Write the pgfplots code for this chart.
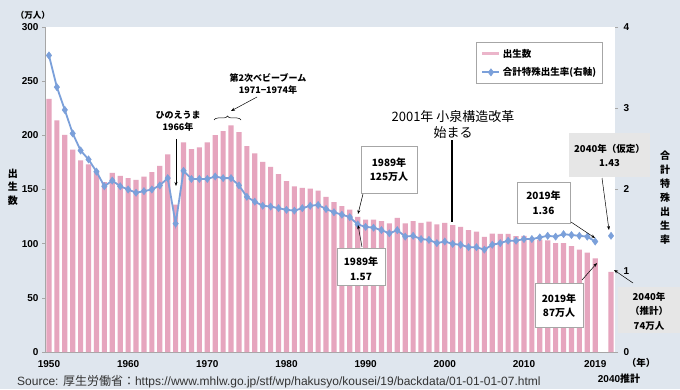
\documentclass[border=0pt]{standalone}
\usepackage{pgfplots}
\pgfplotsset{compat=1.18}
\usepackage{pgfplotstable}
\usepackage{fontspec}
\setmainfont{Liberation Sans}
\newfontfamily\jp{Noto Sans CJK JP}
\usetikzlibrary{decorations.pathreplacing,arrows.meta}
\definecolor{bg}{HTML}{DFE6EE}
\definecolor{barpink}{HTML}{E6A5BE}
\definecolor{legpink}{HTML}{EBB5CA}
\definecolor{lineblue}{HTML}{7BA0DA}
\definecolor{axgray}{HTML}{A6A6A6}
\definecolor{boxgray}{HTML}{E6E6E6}
\definecolor{srcgray}{HTML}{333333}

\pgfplotstableread{
year births
1950 233.7
1951 213.8
1952 200.5
1953 186.8
1954 177.0
1955 173.1
1956 166.5
1957 156.7
1958 165.3
1959 162.6
1960 160.6
1961 158.9
1962 161.9
1963 166.0
1964 171.7
1965 182.4
1966 136.1
1967 193.6
1968 187.2
1969 188.9
1970 193.4
1971 200.1
1972 203.9
1973 209.2
1974 203.0
1975 190.1
1976 183.3
1977 175.5
1978 170.9
1979 164.3
1980 157.7
1981 152.9
1982 151.5
1983 150.9
1984 149.0
1985 143.2
1986 138.3
1987 134.7
1988 131.4
1989 124.7
1990 122.2
1991 122.3
1992 120.9
1993 118.8
1994 123.8
1995 118.7
1996 120.7
1997 119.2
1998 120.3
1999 117.8
2000 119.1
2001 117.1
2002 115.4
2003 112.4
2004 111.1
2005 106.3
2006 109.3
2007 109.0
2008 109.1
2009 107.0
2010 107.1
2011 105.1
2012 103.7
2013 103.0
2014 100.4
2015 100.6
2016 97.7
2017 94.6
2018 91.8
2019 86.5
2021 74.0
}\births

\pgfplotstableread{
year tfr
1950 3.65
1951 3.26
1952 2.98
1953 2.69
1954 2.48
1955 2.37
1956 2.22
1957 2.04
1958 2.11
1959 2.04
1960 2.00
1961 1.96
1962 1.98
1963 2.00
1964 2.05
1965 2.14
1966 1.58
1967 2.23
1968 2.13
1969 2.13
1970 2.13
1971 2.16
1972 2.14
1973 2.14
1974 2.05
1975 1.91
1976 1.85
1977 1.80
1978 1.79
1979 1.77
1980 1.75
1981 1.74
1982 1.77
1983 1.80
1984 1.81
1985 1.76
1986 1.72
1987 1.69
1988 1.66
1989 1.57
1990 1.54
1991 1.53
1992 1.50
1993 1.46
1994 1.50
1995 1.42
1996 1.43
1997 1.39
1998 1.38
1999 1.34
2000 1.36
2001 1.33
2002 1.32
2003 1.29
2004 1.29
2005 1.26
2006 1.32
2007 1.34
2008 1.37
2009 1.37
2010 1.39
2011 1.39
2012 1.41
2013 1.43
2014 1.42
2015 1.45
2016 1.44
2017 1.43
2018 1.42
2019 1.36
}\tfr

\begin{document}
\begin{tikzpicture}
\useasboundingbox (0pt,0pt) rectangle (680pt,389pt);
\fill[bg] (0pt,0pt) rectangle (680pt,389pt);
\begin{axis}[
  at={(45pt,37pt)}, anchor=south west,
  width=570pt, height=325pt, scale only axis,
  xmin=1949.5, xmax=2021.5, ymin=0, ymax=300,
  axis background/.style={fill=white},
  axis x line*=bottom, axis y line*=left,
  axis line style={axgray, line width=0.8pt},
  xtick={1950,1960,1970,1980,1990,2000,2010,2019},
  xticklabels={1950,1960,1970,1980,1990,2000,2010,2019},
  x tick style={draw=none},
  ytick={0,50,...,300},
  y tick style={axgray, line width=0.6pt},
  tick align=outside, major tick length=3pt,
  /pgf/number format/assume math mode=true,
  ticklabel style={font=\bfseries\fontsize{10}{12}\selectfont, text=black},
  xticklabel style={yshift=-1.5pt},
  clip=false,
]
\addplot[ybar, bar width=0.66, fill=barpink, draw=none] table[x=year,y=births] {\births};
\end{axis}
\begin{axis}[
  at={(45pt,37pt)}, anchor=south west,
  width=570pt, height=325pt, scale only axis,
  xmin=1949.5, xmax=2021.5, ymin=0, ymax=4,
  axis x line=none, axis y line*=right,
  y axis line style={draw=none},
  ytick={0,1,2,3,4},
  y tick style={axgray, line width=0.6pt},
  tick align=outside, major tick length=3pt,
  /pgf/number format/assume math mode=true,
  ticklabel style={font=\bfseries\fontsize{10}{12}\selectfont, text=black},
  yticklabel style={xshift=2pt},
  clip=false,
  legend style={at={(0.979,0.954)}, anchor=north east, draw=axgray, line width=0.9pt,
    font=\jp\bfseries\fontsize{9.5}{11}\selectfont, row sep=5pt, inner sep=4.5pt,
    /tikz/every even column/.append style={column sep=2pt}},
  legend cell align=left,
]
\addlegendimage{legpink, line width=3pt}
\addlegendentry{出生数}
\addplot[lineblue, line width=1.8pt, mark=diamond*, mark size=3.6pt, mark options={fill=lineblue, draw=lineblue, line width=0.5pt}] table[x=year,y=tfr] {\tfr};
\addlegendentry{合計特殊出生率(右軸)}
\addplot[only marks, mark=diamond*, mark size=3.6pt, lineblue, forget plot] coordinates {(2021,1.43)};
\end{axis}

\begin{scope}[x=1pt,y=1pt]
% axis titles
\node[font=\jp\bfseries\fontsize{8.5}{10}\selectfont] at (33,374) {（万人）};
\node[font=\jp\bfseries\fontsize{10}{13.5}\selectfont, align=center] at (13,202) {出\\生\\数};
\node[font=\jp\bfseries\fontsize{10}{14}\selectfont, align=center] at (665,191.5) {合\\計\\特\\殊\\出\\生\\率};
\node[font=\jp\bfseries\fontsize{9.5}{11}\selectfont] at (641,26) {（年）};
\node[font=\bfseries\fontsize{10}{12}\selectfont] at (619,10) {2040{\jp 推計}};
% source
\node[font=\fontsize{12}{14}\selectfont, text=srcgray, anchor=west, inner sep=0pt] at (17,7) {Source: {\jp 厚生労働省：}https://www.mhlw.go.jp/stf/wp/hakusyo/kousei/19/backdata/01-01-01-07.html};

% hinoeuma
\node[font=\jp\bfseries\fontsize{9}{12}\selectfont, align=center] at (178,268) {ひのえうま\\1966年};
\draw[-{Stealth[length=4pt,width=3pt]}, line width=0.5pt] (176,250) -- (176,203);
% second baby boom
\node[font=\jp\bfseries\fontsize{9}{12.5}\selectfont, align=center] at (268,305) {第2次ベビーブーム\\1971−1974年};
\draw[-{Stealth[length=4pt,width=3pt]}, line width=0.5pt] (257,292) -- (231,278);
\draw[decorate, decoration={brace, amplitude=4pt}, line width=0.5pt] (214,269) -- (241,269);
% koizumi
\node[font=\jp\fontsize{13}{16}\selectfont, align=center] at (453,264) {2001年 小泉構造改革\\始まる};
\draw[line width=2.5pt] (452,249) -- (452,167);

% box A
\draw[axgray, fill=white, line width=0.6pt] (361,243) rectangle (417,196);
\node[font=\jp\bfseries\fontsize{10}{14}\selectfont, align=center] at (389,219.5) {1989年\\125万人};
\draw[-{Stealth[length=4pt,width=3pt]}, line width=0.5pt] (363,195) -- (358,175);
% box B
\draw[axgray, fill=white, line width=0.6pt] (337,141) rectangle (385,104);
\node[font=\jp\bfseries\fontsize{10}{14.5}\selectfont, align=center] at (361,120) {1989年\\1.57};
\draw[-{Stealth[length=4pt,width=3pt]}, line width=0.5pt] (362,142) -- (358,164);
% box C
\draw[axgray, fill=white, line width=0.6pt] (517,207) rectangle (570,166);
\node[font=\jp\bfseries\fontsize{10}{14.5}\selectfont, align=center] at (543.5,186) {2019年\\1.36};
\draw[-{Stealth[length=4pt,width=3pt]}, line width=0.5pt] (571,167) -- (595,151);
% box D
\draw[axgray, fill=white, line width=0.6pt] (535,106) rectangle (583,62);
\node[font=\jp\bfseries\fontsize{10}{14.5}\selectfont, align=center] at (559,83.5) {2019年\\87万人};
\draw[-{Stealth[length=4pt,width=3pt]}, line width=0.5pt] (582,109) -- (597,126);
% box E
\fill[boxgray] (569,256) rectangle (650,212);
\node[font=\jp\bfseries\fontsize{9.5}{14.5}\selectfont, align=center] at (609.5,233.5) {2040年（仮定）\\1.43};
\draw[-{Stealth[length=4pt,width=3pt]}, line width=0.5pt] (602,211) -- (609,159);
% box F
\fill[boxgray] (618,102) rectangle (680,56);
\node[font=\jp\bfseries\fontsize{9.5}{14.5}\selectfont, align=center] at (649,78) {2040年\\（推計）\\74万人};
\draw[-{Stealth[length=4pt,width=3pt]}, line width=0.5pt] (633,106) -- (614,119);
\end{scope}
\end{tikzpicture}
\end{document}
